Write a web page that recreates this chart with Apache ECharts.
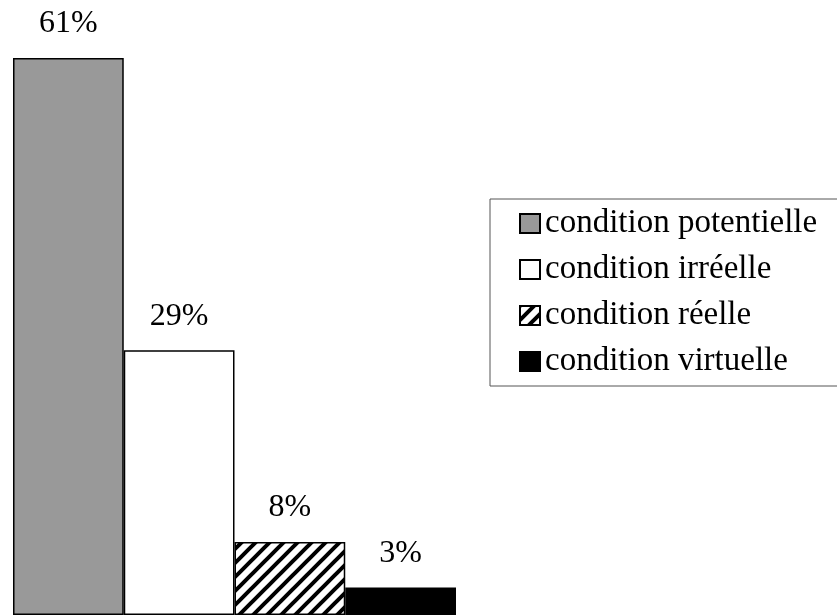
<!DOCTYPE html>
<html>
<head>
<meta charset="utf-8">
<script src="https://cdn.jsdelivr.net/npm/echarts@6/dist/echarts.min.js"></script>
<style>
html,body{margin:0;padding:0;background:#fff;}
#chart{width:837px;height:615px;}
</style>
</head>
<body>
<div id="chart"></div>
<script>
const categories = [''];
const seriesNames = ['condition potentielle', 'condition irréelle', 'condition réelle', 'condition virtuelle'];
const seriesValues = [61, 29, 8, 3];

function hatch() {
  const P = 14;
  const c = document.createElement('canvas');
  c.width = P; c.height = P;
  const g = c.getContext('2d');
  g.fillStyle = '#fff';
  g.fillRect(0, 0, P, P);
  g.strokeStyle = '#000';
  g.lineWidth = 4;
  g.beginPath();
  g.moveTo(-2, P + 2); g.lineTo(P + 2, -2);
  g.moveTo(-2, 2); g.lineTo(2, -2);
  g.moveTo(P - 2, P + 2); g.lineTo(P + 2, P - 2);
  g.stroke();
  return c;
}

const fills = ['#999999', '#ffffff', {image: hatch(), repeat: 'repeat'}, '#000000'];
const font = 'Liberation Serif, Times New Roman, serif';

const chart = echarts.init(document.getElementById('chart'));
chart.setOption({
  animation: false,
  backgroundColor: '#fff',
  grid: {left: 13, top: 58, width: 443, height: 564},
  xAxis: {type: 'category', data: categories, show: false},
  yAxis: {type: 'value', min: 0, max: 61, show: false},
  legend: {
    orient: 'vertical',
    left: 490, top: 199,
    padding: [8, 30, 8, 29],
    itemGap: 13,
    itemWidth: 20, itemHeight: 19,
    itemTextGap: 13,
    icon: 'rect',
    borderColor: '#555',
    borderWidth: 1,
    textStyle: {fontFamily: font, fontSize: 33, lineHeight: 33, color: '#000'},
    data: seriesNames
  },
  series: seriesNames.map((name, i) => ({
    name: name,
    type: 'bar',
    barGap: '0%',
    barCategoryGap: '0%',
    data: [seriesValues[i]],
    itemStyle: {color: fills[i], borderColor: '#000', borderWidth: 1.5},
    label: {
      show: true, position: 'top', distance: 18,
      formatter: '{c}%',
      fontFamily: font, fontSize: 32, lineHeight: 32, color: '#000'
    }
  }))
});
</script>
</body>
</html>
